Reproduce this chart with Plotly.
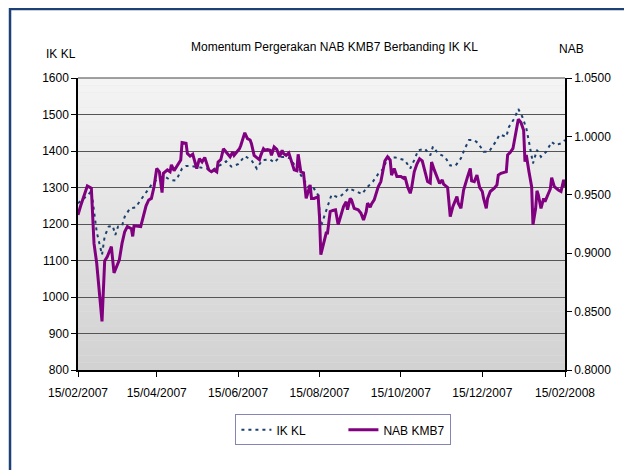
import pandas as pd
import plotly.graph_objects as go

start = pd.Timestamp("2007-02-15")

# days after 15/02/2007
ik_days = [0, 4, 8, 10, 14, 16, 18, 20, 23, 26,
           28, 30, 33, 35, 39, 43, 46, 51, 55, 59,
           61, 65, 69, 73, 75, 78, 81, 85, 89, 93,
           96, 101, 106, 111, 115, 120, 125, 130, 134, 138,
           144, 147, 151, 155, 159, 163, 168, 173, 176, 180,
           182, 185, 187, 190, 195, 198, 203, 208, 213, 216,
           221, 225, 229, 232, 238, 245, 249, 252, 255, 260,
           264, 266, 270, 275, 279, 283, 287, 290, 293, 297,
           300, 304, 308, 313, 316, 321, 323, 327, 330, 333,
           336, 338, 341, 344, 347, 351, 355, 358, 362, 365]
ik_kl = [1257, 1270, 1281, 1292, 1179, 1147, 1116, 1166, 1193, 1195,
         1170, 1193, 1195, 1220, 1243, 1245, 1261, 1284, 1307, 1321,
         1328, 1330, 1321, 1319, 1330, 1352, 1359, 1359, 1357, 1355,
         1352, 1348, 1359, 1372, 1357, 1364, 1386, 1375, 1352, 1375,
         1377, 1368, 1383, 1384, 1380, 1357, 1325, 1300, 1302, 1279,
         1193, 1225, 1248, 1280, 1273, 1280, 1298, 1289, 1282, 1298,
         1316, 1337, 1352, 1382, 1382, 1375, 1352, 1375, 1402, 1406,
         1388, 1412, 1393, 1384, 1360, 1360, 1380, 1407, 1430, 1430,
         1421, 1398, 1398, 1425, 1445, 1439, 1466, 1489, 1515, 1494,
         1462, 1425, 1366, 1403, 1384, 1398, 1425, 1416, 1421, 1430]

nab_days = [0, 2, 7, 10, 12, 14, 18, 20, 22, 25,
            27, 29, 31, 33, 35, 37, 40, 41, 42, 47,
            49, 51, 53, 55, 57, 59, 61, 63, 64, 67,
            69, 70, 72, 74, 76, 77, 78, 81, 82, 84,
            86, 87, 89, 91, 93, 95, 98, 100, 102, 104,
            105, 107, 109, 111, 113, 114, 116, 117, 119, 121,
            122, 124, 125, 127, 129, 130, 132, 134, 136, 137,
            139, 140, 142, 144, 145, 147, 149, 151, 153, 154,
            156, 158, 160, 162, 164, 165, 167, 169, 171, 173,
            174, 175, 177, 180, 181, 182, 184, 186, 187, 189,
            191, 193, 195, 197, 199, 201, 202, 204, 205, 207,
            210, 212, 214, 216, 217, 219, 220, 222, 224, 225,
            227, 229, 230, 232, 234, 235, 237, 239, 242, 244,
            245, 247, 249, 250, 252, 254, 256, 258, 260, 262,
            264, 265, 267, 269, 271, 273, 274, 277, 279, 281,
            284, 285, 287, 289, 291, 292, 294, 295, 297, 299,
            301, 303, 304, 306, 307, 309, 312, 314, 315, 317,
            320, 321, 322, 324, 326, 328, 330, 332, 334, 335,
            336, 338, 340, 341, 343, 344, 345, 347, 349, 350,
            352, 354, 355, 357, 360, 362, 364, 365]
nab_kmb7 = [0.9328, 0.9406, 0.9575, 0.9556, 0.9084, 0.8916, 0.8416, 0.8934, 0.8972, 0.9056,
            0.8831, 0.8888, 0.8944, 0.9084, 0.9184, 0.9228, 0.9209, 0.9144, 0.9234, 0.9228,
            0.9328, 0.9406, 0.9456, 0.9469, 0.9569, 0.9725, 0.9697, 0.9519, 0.9684, 0.9713,
            0.9697, 0.9756, 0.9706, 0.9741, 0.9769, 0.9797, 0.9947, 0.9941, 0.9853, 0.9831,
            0.9847, 0.9813, 0.9725, 0.9809, 0.9781, 0.9819, 0.9713, 0.9697, 0.9713, 0.9697,
            0.9781, 0.9800, 0.9894, 0.9866, 0.9838, 0.9825, 0.9866, 0.9838, 0.9866, 0.9894,
            0.9922, 0.9997, 1.0031, 0.9981, 0.9969, 0.9938, 0.9838, 0.9819, 0.9800, 0.9838,
            0.9894, 0.9881, 0.9888, 0.9881, 0.9838, 0.9909, 0.9888, 0.9825, 0.9881, 0.9853,
            0.9838, 0.9859, 0.9781, 0.9713, 0.9706, 0.9847, 0.9697, 0.9688, 0.9469, 0.9541,
            0.9584, 0.9469, 0.9469, 0.9484, 0.9313, 0.8988, 0.9088, 0.9172, 0.9172, 0.9356,
            0.9366, 0.9372, 0.9244, 0.9328, 0.9400, 0.9441, 0.9372, 0.9469, 0.9456, 0.9384,
            0.9372, 0.9344, 0.9284, 0.9356, 0.9428, 0.9394, 0.9422, 0.9456, 0.9541, 0.9569,
            0.9613, 0.9753, 0.9791, 0.9825, 0.9797, 0.9669, 0.9725, 0.9656, 0.9656, 0.9641,
            0.9656, 0.9569, 0.9513, 0.9556, 0.9697, 0.9763, 0.9809, 0.9791, 0.9713, 0.9613,
            0.9600, 0.9781, 0.9713, 0.9656, 0.9597, 0.9628, 0.9591, 0.9563, 0.9313, 0.9400,
            0.9484, 0.9428, 0.9384, 0.9541, 0.9628, 0.9656, 0.9725, 0.9619, 0.9613, 0.9669,
            0.9563, 0.9528, 0.9469, 0.9384, 0.9469, 0.9528, 0.9556, 0.9584, 0.9669, 0.9684,
            0.9694, 0.9697, 0.9841, 0.9863, 0.9897, 1.0013, 1.0147, 1.0119, 1.0053, 0.9784,
            0.9841, 0.9697, 0.9569, 0.9244, 0.9384, 0.9534, 0.9500, 0.9384, 0.9469, 0.9441,
            0.9500, 0.9550, 0.9647, 0.9569, 0.9541, 0.9528, 0.9628, 0.9569]

tick_dates = ["2007-02-15", "2007-04-15", "2007-06-15", "2007-08-15",
              "2007-10-15", "2007-12-15", "2008-02-15"]
tick_labels = ["15/02/2007", "15/04/2007", "15/06/2007", "15/08/2007",
               "15/10/2007", "15/12/2007", "15/02/2008"]

ik_dates = start + pd.to_timedelta(ik_days, unit="D")
nab_dates = start + pd.to_timedelta(nab_days, unit="D")

font = "Liberation Sans, Arial, sans-serif"

fig = go.Figure()
fig.add_trace(go.Scatter(x=ik_dates, y=ik_kl, name="IK KL", mode="lines",
                         line=dict(color="#1b3f6e", width=2, dash="3px,4px")))
fig.add_trace(go.Scatter(x=nab_dates, y=nab_kmb7, name="NAB KMB7", mode="lines",
                         yaxis="y2", line=dict(color="#800080", width=3)))

# grey gradient behind the plot area
shapes = []
n = 40
for i in range(n):
    t = i / (n - 1)
    c = int(round(0xd2 + (0xf4 - 0xd2) * t))
    shapes.append(dict(type="rect", xref="paper", yref="paper",
                       x0=0, x1=1, y0=i / n, y1=(i + 1) / n,
                       fillcolor="rgb(%d,%d,%d)" % (c, c, c),
                       line=dict(width=0), layer="below"))
# top edge of plot area
shapes.append(dict(type="line", xref="paper", yref="paper", x0=0, x1=1, y0=1, y1=1,
                   line=dict(color="#808080", width=1.5)))
# outer blue frame (cut off at right and bottom)
shapes.append(dict(type="rect", xref="paper", yref="paper",
                   x0=-0.1396, x1=1.3, y0=-0.5, y1=1.2363,
                   line=dict(color="#1d4176", width=2.5), fillcolor="rgba(0,0,0,0)"))

fig.update_layout(
    width=624, height=462,
    margin=dict(l=70, r=67, t=70, b=100),
    paper_bgcolor="white",
    plot_bgcolor="#e4e4e4",
    font=dict(family=font, size=12, color="#000000"),
    showlegend=True,
    legend=dict(orientation="h", x=0.545, y=-0.205, xanchor="center", yanchor="middle",
                bordercolor="#8585b5", borderwidth=1, bgcolor="white",
                entrywidth=62, font=dict(size=12)),
    shapes=shapes,
    xaxis=dict(type="date", range=["2007-02-15", "2008-02-15"],
               tickvals=tick_dates, ticktext=tick_labels,
               showgrid=False, showline=True, linecolor="#000000", linewidth=1.5,
               ticks="outside", ticklen=5, tickcolor="#000000", zeroline=False,
               ticklabelstandoff=6),
    yaxis=dict(range=[800, 1600], dtick=100, showgrid=True, gridcolor="#555555",
               gridwidth=1.4, showline=True, linecolor="#000000", linewidth=1.5,
               ticks="outside", ticklen=5, tickcolor="#000000", zeroline=False),
    yaxis2=dict(range=[0.8, 1.05], dtick=0.05, tickformat=".4f", overlaying="y",
                side="right", showgrid=False, showline=True, linecolor="#000000",
                linewidth=1.5, ticks="outside", ticklen=5, tickcolor="#000000",
                zeroline=False),
    annotations=[
        dict(text="Momentum Pergerakan NAB KMB7 Berbanding IK KL", xref="paper", yref="paper",
             x=0.527, y=1.137, showarrow=False, font=dict(size=12)),
        dict(text="IK KL", xref="paper", yref="paper", x=-0.07, y=1.113,
             showarrow=False, font=dict(size=12)),
        dict(text="NAB", xref="paper", yref="paper", x=1.043, y=1.13,
             showarrow=False, font=dict(size=12)),
    ],
)

fig.write_html("out.html")
